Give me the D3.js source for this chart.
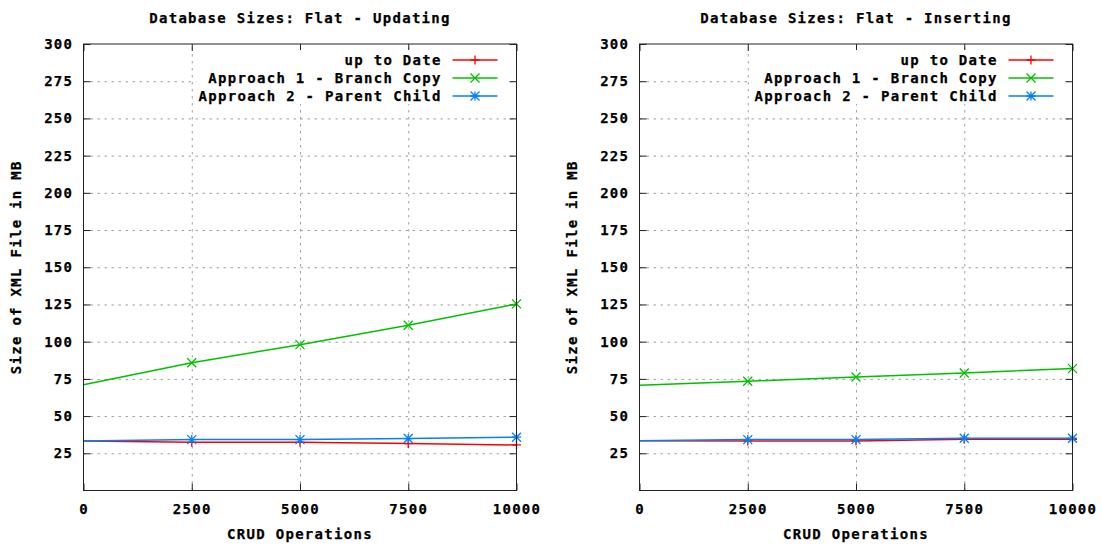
<!DOCTYPE html>
<html>
<head>
<meta charset="utf-8">
<script src="https://cdn.jsdelivr.net/npm/d3@7"></script>
<style>
    body { margin: 0; background: #fff; }
    #wrap { position: relative; width: 1102px; height: 549px; overflow: hidden; }
    #wrap svg { position: absolute; top: 0; }
    text { font-family: "DejaVu Sans Mono", monospace; font-weight: bold; font-size: 14px; letter-spacing: 1.3px; fill: #000; stroke: #000; stroke-width: 0.25px; }
    .grid line { stroke: #a0a0a0; stroke-width: 1; stroke-dasharray: 2.5,4.5; }
    .ticks line { stroke: #222; stroke-width: 1; }
</style>
</head>
<body>
<div id="wrap">
    <svg id="updating"></svg>
    <svg id="inserting"></svg>
</div>
<script>
// x values (CRUD operations) shared by every series
const operations = [0, 2500, 5000, 7500, 10000];

const seriesNames = ["up to Date", "Approach 1 - Branch Copy", "Approach 2 - Parent Child"];

// sizes in MB
const updatingUpToDate = [33.3, 32.4, 32.4, 31.5, 30.6];
const updatingBranchCopy = [71, 85.8, 98, 111, 125.4];
const updatingParentChild = [33.3, 34.2, 34.2, 34.9, 35.8];

const insertingUpToDate = [33.5, 33.3, 33.3, 34.4, 34.4];
const insertingBranchCopy = [70.7, 73.4, 76.3, 79, 81.9];
const insertingParentChild = [33.5, 34.2, 34.2, 35.1, 35.1];

const xTickValues = [0, 2500, 5000, 7500, 10000];
const yTickValues = [25, 50, 75, 100, 125, 150, 175, 200, 225, 250, 275, 300];

const colors = ["#ff0000", "#00c000", "#0080ff"];
const markerTypes = ["plus", "cross", "star"];

function markerPath(type, s) {
    let plus = `M${-s},0H${s}M0,${-s}V${s}`;
    let cross = `M${-s},${-s}L${s},${s}M${-s},${s}L${s},${-s}`;
    if (type == "plus") return plus;
    if (type == "cross") return cross;
    return plus + cross;
}

function drawPanel(id, left, canvasWidth, title, seriesValues) {
    let margin = { top: 44, left: 83.5 };
    let width = 433, height = 446.5;

    let root = d3.select("#" + id)
        .attr("width", canvasWidth)
        .attr("height", 549)
        .style("left", left + "px");

    let svg = root.append("g")
        .attr("transform", "translate(" + margin.left + "," + margin.top + ")");

    let x = d3.scaleLinear().domain([0, 10000]).range([0, width]);
    let y = d3.scaleLinear().domain([0, 300]).range([height, 0]);

    // dotted grid
    svg.append("g")
        .attr("class", "grid")
        .call(d3.axisLeft(y).tickValues(yTickValues.filter(d => d < 300)).tickSize(-width).tickFormat(""))
        .call(g => g.select(".domain").remove());
    svg.append("g")
        .attr("class", "grid")
        .attr("transform", "translate(0," + height + ")")
        .call(d3.axisBottom(x).tickValues(xTickValues.filter(d => d > 0 && d < 10000)).tickSize(-height).tickFormat(""))
        .call(g => g.select(".domain").remove());

    // ticks pointing inward on all four sides
    let yLeft = svg.append("g").attr("class", "ticks")
        .call(d3.axisLeft(y).tickValues(yTickValues).tickSize(-7).tickPadding(11.5));
    svg.append("g").attr("class", "ticks")
        .attr("transform", "translate(" + width + ",0)")
        .call(d3.axisRight(y).tickValues(yTickValues).tickSize(-7).tickFormat(""));
    svg.append("g").attr("class", "ticks")
        .attr("transform", "translate(0," + height + ")")
        .call(d3.axisBottom(x).tickValues(xTickValues).tickSize(-7).tickPadding(13.5).tickFormat(d3.format("d")));
    svg.append("g").attr("class", "ticks")
        .call(d3.axisTop(x).tickValues(xTickValues).tickSize(-7).tickFormat(""));

    svg.selectAll(".ticks .domain").remove();
    svg.selectAll(".ticks text").attr("font-family", null).attr("font-size", null).attr("fill", null);
    yLeft.selectAll("text").attr("dx", "1.3");

    // opaque key box
    let key = svg.append("g");
    key.append("rect")
        .attr("x", width - 321)
        .attr("y", 6)
        .attr("width", 313)
        .attr("height", 54)
        .attr("fill", "#fff");

    // series
    let line = d3.line()
        .x((d, i) => x(operations[i]))
        .y(d => y(d));

    seriesValues.forEach((vals, k) => {
        svg.append("path")
            .datum(vals)
            .attr("fill", "none")
            .attr("stroke", colors[k])
            .attr("stroke-width", 1.5)
            .attr("d", line);

        svg.append("g")
            .selectAll("path")
            .data(vals.map((v, i) => [operations[i], v]).filter(d => d[0] > 0))
            .enter().append("path")
            .attr("transform", d => "translate(" + x(d[0]) + "," + y(d[1]) + ")")
            .attr("d", markerPath(markerTypes[k], 4.5))
            .attr("stroke", colors[k])
            .attr("stroke-width", 1.3)
            .attr("fill", "none");
    });

    // key entries
    seriesNames.forEach((name, k) => {
        let ky = 16 + k * 18;
        key.append("text")
            .attr("x", width - 76)
            .attr("y", ky)
            .attr("dy", "0.35em")
            .attr("dx", 1.3)
            .attr("text-anchor", "end")
            .text(name);
        key.append("line")
            .attr("x1", width - 64)
            .attr("x2", width - 19)
            .attr("y1", ky)
            .attr("y2", ky)
            .attr("stroke", colors[k])
            .attr("stroke-width", 1.5);
        key.append("path")
            .attr("transform", "translate(" + (width - 41.5) + "," + ky + ")")
            .attr("d", markerPath(markerTypes[k], 4.5))
            .attr("stroke", colors[k])
            .attr("stroke-width", 1.3)
            .attr("fill", "none");
    });

    // border
    svg.append("rect")
        .attr("width", width)
        .attr("height", height)
        .attr("fill", "none")
        .attr("stroke", "#222")
        .attr("stroke-width", 1);

    // title and axis titles
    root.append("text")
        .attr("x", margin.left + width / 2)
        .attr("y", 23)
        .attr("text-anchor", "middle")
        .text(title);

    root.append("text")
        .attr("x", margin.left + width / 2)
        .attr("y", 539)
        .attr("text-anchor", "middle")
        .text("CRUD Operations");

    root.append("text")
        .attr("transform", "translate(21," + (margin.top + height / 2) + ") rotate(-90)")
        .attr("text-anchor", "middle")
        .text("Size of XML File in MB");
}

drawPanel("updating", 0, 551, "Database Sizes: Flat - Updating",
    [updatingUpToDate, updatingBranchCopy, updatingParentChild]);
drawPanel("inserting", 556, 546, "Database Sizes: Flat - Inserting",
    [insertingUpToDate, insertingBranchCopy, insertingParentChild]);
</script>
</body>
</html>
